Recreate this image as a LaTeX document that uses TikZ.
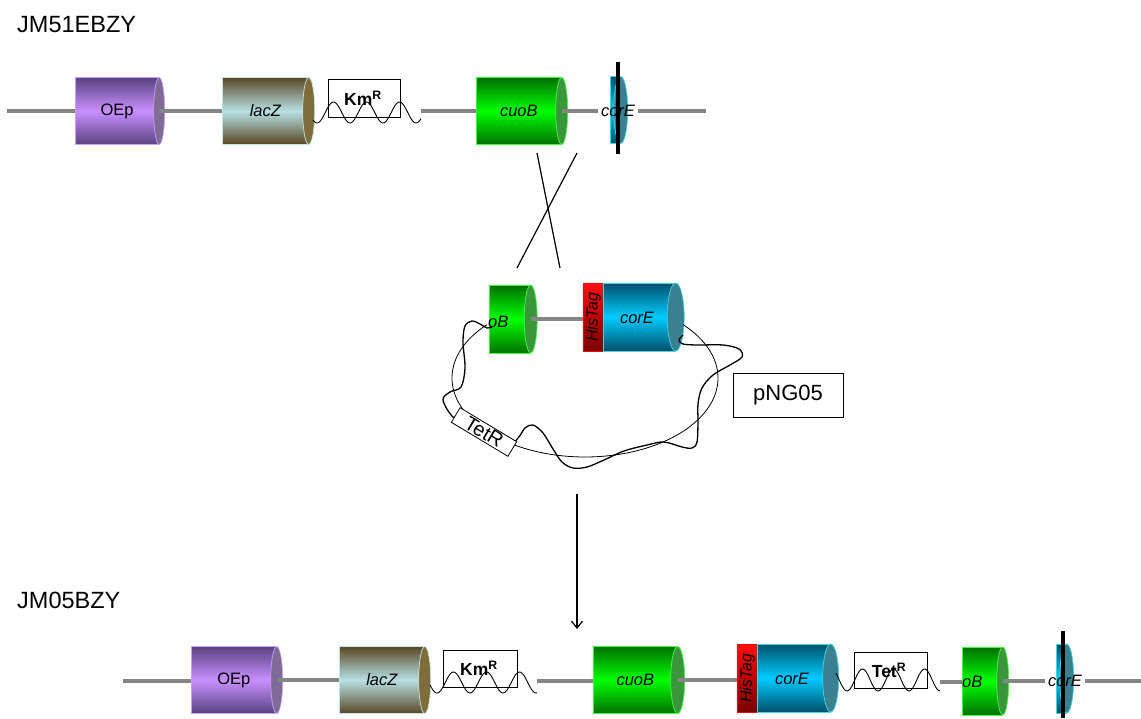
\documentclass[tikz,border=0pt]{standalone}
\usepackage{fontspec}
\setmainfont{Liberation Sans}
\usetikzlibrary{arrows.meta,shapes.geometric}
\definecolor{dnagray}{HTML}{858585}
\definecolor{oepD}{HTML}{5A4280}
\definecolor{oepL}{HTML}{C890FF}
\definecolor{oepE}{HTML}{806A96}
\definecolor{oepB}{HTML}{C8A0FF}
\definecolor{laczD}{HTML}{5A4725}
\definecolor{laczL}{HTML}{B8E0E4}
\definecolor{laczE}{HTML}{806C38}
\definecolor{laczB}{HTML}{C0E6E8}
\definecolor{cuoD}{HTML}{007000}
\definecolor{cuoL}{HTML}{00FF00}
\definecolor{cuoE}{HTML}{3A963A}
\definecolor{cuoB}{HTML}{40FF40}
\definecolor{coreD}{HTML}{00506A}
\definecolor{coreL}{HTML}{00CCFF}
\definecolor{coreE}{HTML}{3A8090}
\definecolor{coreB}{HTML}{40D8E0}
\definecolor{hisT}{HTML}{FF1010}
\definecolor{hisM}{HTML}{C00000}
\definecolor{hisD}{HTML}{7A0000}
\newcommand{\genefont}{\fontsize{16.5}{17}\selectfont\itshape}
\newcommand{\genecyl}[8]{%
  \node[body, #7body, minimum width={(#3)-(#2)}, minimum height={#5}] (#1) at (#2,#4) {#8};
  \node[capend, #7cap, minimum width={2*(#6)}, minimum height={#5}] (#1cap) at (#1.east) {};
}
\begin{document}
\begin{tikzpicture}[x=1pt,y=-1pt,
  body/.style={rectangle, inner sep=0pt, anchor=west, line width=0.7pt, font=\genefont},
  capend/.style={ellipse, inner sep=0pt, line width=0.7pt},
  oepbody/.style={draw=oepB, top color=oepD, bottom color=oepD, middle color=oepL},
  oepcap/.style={draw=oepB, fill=oepE},
  laczbody/.style={draw=laczB, top color=laczD, bottom color=laczD, middle color=laczL},
  laczcap/.style={draw=laczB, fill=laczE},
  cuobody/.style={draw=cuoB, top color=cuoD, bottom color=cuoD, middle color=cuoL},
  cuocap/.style={draw=cuoB, fill=cuoE},
  corebody/.style={draw=coreB, top color=coreD, bottom color=coreD, middle color=coreL},
  corecap/.style={draw=coreB, fill=coreE},
  hisbody/.style={draw=red, line width=1pt, top color=hisT, bottom color=hisD, middle color=hisM},
  hisfont/.style={font=\fontsize{16}{16}\selectfont\itshape},
  dna/.style={draw=dnagray, line width=3.2pt},
  wave/.style={black, line width=0.9pt},
  resbox/.style={draw=black, line width=0.8pt, rectangle, inner sep=0pt},
  resfont/.style={font=\fontsize{17.5}{18}\selectfont\bfseries},
  blackbar/.style={black, line width=4.2pt},
  crossline/.style={black, line width=1.2pt},
  plasring/.style={black, line width=0.8pt},
  tetcurve/.style={black, line width=1.3pt},
  strainlabel/.style={anchor=west, inner sep=0pt, font=\fontsize{23.5}{24}\selectfont},
  celabel/.style={inner xsep=3pt, inner ysep=0pt, font=\genefont},
]
\useasboundingbox (0,0) rectangle (1141,718);

% ---------------- top strain ----------------
\node[strainlabel] (lab1) at (17,25) {JM51EBZY};
\coordinate (t0) at (7,111);
\coordinate (t1) at (706,111);
\genecyl{oep1}{75}{158.5}{111}{67}{5.5}{oep}{\upshape OEp}
\genecyl{lacz1}{222}{308}{111}{67}{6}{lacz}{lacZ}
\genecyl{cuo1}{476}{561}{111}{67}{6}{cuo}{cuoB}
\genecyl{core1}{610}{620}{110}{67}{7}{core}{}
\coordinate (bar1t) at (618,62);
\coordinate (bar1b) at (618,154);
\draw[blackbar] (bar1t) -- (bar1b);
\node[celabel] (core1lab) at (618,111) {corE};
\node[resbox, minimum width=72, minimum height=38] (km1) at (364,98) {};
\draw[wave] plot[domain=313:421, samples=100] (\x,{112.5+10.5*cos((\x-317)/33*360)});
\node[resfont] (km1lab) at (363,98) {Km\textsuperscript{R}};
\coordinate (w1e) at (421,111);
\draw[dna] (t0) -- (t0 -| oep1.west);
\draw[dna] (oep1cap.center) -- (oep1cap.center -| lacz1.west);
\draw[dna] (w1e) -- (w1e -| cuo1.west);
\draw[dna] (cuo1cap.center) -- (cuo1cap.center -| core1lab.west);
\draw[dna] (core1lab.east) -- (core1lab.east -| t1);

% ---------------- crossover ----------------
\coordinate (c1) at (537,153);
\coordinate (c2) at (560,268);
\coordinate (c3) at (577,153);
\coordinate (c4) at (517,268);
\draw[crossline] (c1) -- (c2);
\draw[crossline] (c3) -- (c4);

% ---------------- plasmid ----------------
\genecyl{ob2}{489}{530}{319}{68}{6.5}{cuo}{}
\node[body, hisbody, minimum width=20, minimum height=68] (his2) at (583,317) {};
\genecyl{core2}{603}{675}{317}{68}{8.5}{core}{}
\node[hisfont, rotate=90] (his2lab) at (his2.center) {HisTag};
\node[font=\genefont] (core2lab) at (637,318) {corE};
\node[font=\genefont, anchor=west, inner sep=0pt] (ob2lab) at (488,322) {oB};
\draw[dna] (ob2cap.center) -- (ob2cap.center -| his2.west);
\draw[plasring] plot[domain=-42.5:222.5, samples=150] ({585+133*cos(\x)}, {378+79*sin(\x)});
\draw[tetcurve] plot[smooth, tension=0.55] coordinates {
 (683,335) (679,340) (683,344) (697,345) (723,345) (739,349) (742,357) (730,365)
 (713,375) (702,388) (698,404) (698,422) (697,442) (692,448) (682,447) (664,442)
 (647,445) (624,451) (604,460) (587,467) (573,468) (562,462) (553,449) (543,433)
 (533,425) (525,428) (518,438) (505,447) (470,425) (453,417) (443,400) (450,392)
 (461,387) (465,368) (463,342) (465,326) (472,321) (480,324) (487,328) (492,327)};
\node[resbox, fill=white, rotate=-31, minimum width=66, minimum height=17,
      font=\fontsize{20}{20}\selectfont] (tet2) at (484,432) {TetR};
\node[resbox, minimum width=110, minimum height=44,
      font=\fontsize{22}{22}\selectfont] (png) at (788,395) {pNG05};

% ---------------- arrow ----------------
\coordinate (a1) at (577,494);
\coordinate (a2) at (577,629);
\draw[black, line width=1.2pt, -{Straight Barb[length=7pt,width=11pt]}] (a1) -- (a2);

% ---------------- bottom strain ----------------
\node[strainlabel] (lab2) at (17,600.5) {JM05BZY};
\coordinate (b0) at (123,681);
\coordinate (b1) at (1141,681);
\genecyl{oep3}{191}{276}{680}{67}{6}{oep}{\upshape OEp}
\genecyl{lacz3}{339}{424}{680}{67}{6}{lacz}{lacZ}
\genecyl{cuo3}{593}{677}{680}{67}{7}{cuo}{cuoB}
\node[body, hisbody, minimum width=20, minimum height=68] (his3) at (737,678) {};
\genecyl{core3}{757}{830}{678}{68}{8}{core}{}
\node[hisfont, rotate=90] (his3lab) at (his3.center) {HisTag};
\node[font=\genefont] (core3lab) at (792,679) {corE};
\genecyl{ob3}{962}{1002}{681}{68}{6}{cuo}{}
\node[font=\genefont, anchor=west, inner sep=0pt] (ob3lab) at (962,682) {oB};
\genecyl{core4}{1056}{1066}{678.5}{69}{7}{core}{}
\coordinate (bar2t) at (1063,631);
\coordinate (bar2b) at (1063,718);
\draw[blackbar] (bar2t) -- (bar2b);
\node[celabel] (core4lab) at (1065,681) {corE};
\node[resbox, minimum width=74, minimum height=37] (km3) at (480,668.5) {};
\draw[wave] plot[domain=430:537, samples=100] (\x,{682.5+10.5*cos((\x-437)/33*360)});
\node[resfont] (km3lab) at (479,668) {Km\textsuperscript{R}};
\node[resbox, minimum width=73, minimum height=36] (tet3) at (890.5,670) {};
\draw[wave] plot[domain=836:940, samples=100] (\x,{680+11*cos((\x-847)/31*360)});
\node[resfont] (tet3lab) at (889,670) {Tet\textsuperscript{R}};
\coordinate (w3e) at (537,681);
\coordinate (w4e) at (940,682);
\draw[dna] (b0) -- (b0 -| oep3.west);
\draw[dna] (oep3cap.center) -- (oep3cap.center -| lacz3.west);
\draw[dna] (w3e) -- (w3e -| cuo3.west);
\draw[dna] (cuo3cap.center) -- (cuo3cap.center -| his3.west);
\draw[dna] (w4e) -- (w4e -| ob3.west);
\draw[dna] (ob3cap.center) -- (ob3cap.center -| core4lab.west);
\draw[dna] (core4lab.east) -- (core4lab.east -| b1);
\end{tikzpicture}
\end{document}
